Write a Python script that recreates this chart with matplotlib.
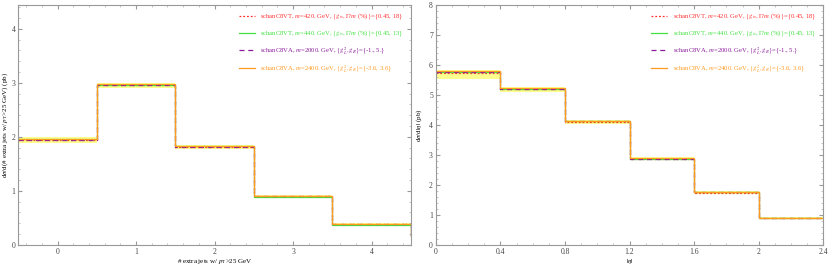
import matplotlib
matplotlib.use("Agg")
import matplotlib.pyplot as plt
import numpy as np

plt.rcParams['font.family'] = ['Liberation Serif', 'DejaVu Serif']
plt.rcParams['mathtext.fontset'] = 'stix'

# left panel: number of extra jets (last bin lies past the axis edge)
njet_edges = [-0.5, 0.5, 1.5, 2.5, 3.5, 4.5, 5.5]
njet_c8vt420 = [1.95, 2.96, 1.82, 0.90, 0.38, 0.17]
njet_c8vt440 = [1.96, 2.97, 1.83, 0.89, 0.37, 0.16]
njet_c8va2000 = [1.95, 2.96, 1.82, 0.90, 0.38, 0.17]
njet_c8va2400 = [1.96, 2.98, 1.83, 0.90, 0.38, 0.17]
njet_band_lo = [1.88, 2.90, 1.78, 0.87, 0.36, 0.15]
njet_band_hi = [1.99, 3.00, 1.85, 0.92, 0.40, 0.19]

# right panel: |eta|
eta_edges = [0, 0.4, 0.8, 1.2, 1.6, 2.0, 2.4]
eta_c8vt420 = [5.72, 5.18, 4.10, 2.86, 1.74, 0.89]
eta_c8vt440 = [5.76, 5.20, 4.12, 2.87, 1.75, 0.90]
eta_c8va2000 = [5.75, 5.20, 4.12, 2.87, 1.75, 0.90]
eta_c8va2400 = [5.78, 5.21, 4.13, 2.88, 1.76, 0.90]
eta_band_lo = [5.52, 5.08, 4.04, 2.82, 1.70, 0.86]
eta_band_hi = [5.82, 5.24, 4.16, 2.91, 1.78, 0.92]

labels = [
    r'schanC8VT, $m$=420. GeV, $\{g_{ts},\Gamma/m$ (%)$\}$={0.45, 18}',
    r'schanC8VT, $m$=440. GeV, $\{g_{ts},\Gamma/m$ (%)$\}$={0.45, 13}',
    r'schanC8VA, $m$=2000. GeV, $\{g_L^2,g_R\}$={-1., 5.}',
    r'schanC8VA, $m$=2400. GeV, $\{g_L^2,g_R\}$={-3.6, 3.6}',
]
colors = ['#ff3030', '#40e040', '#8a1a9a', '#ff9a20']
styles = [(0, (1.5, 1.5)), '-', (0, (4, 3)), '-']


def panel(ax, edges, series, lo, hi):
    x = np.repeat(edges, 2)[1:-1]
    ax.fill_between(x, np.repeat(lo, 2), np.repeat(hi, 2), color='#ffff90', lw=0)
    for vals, c, ls, lab in zip(series, colors, styles, labels):
        ax.plot(x, np.repeat(vals, 2), color=c, ls=ls, lw=0.9, label=lab)
    for sp in ax.spines.values():
        sp.set_color('#999999')
    ax.tick_params(direction='in', colors='#999999', labelcolor='#444444',
                   labelsize=5.5, length=3, pad=2, top=True, right=True)
    ax.minorticks_on()
    ax.tick_params(which='minor', direction='in', colors='#bbbbbb', length=1.5,
                   top=True, right=True)
    leg = ax.legend(loc='upper right', fontsize=4.8, frameon=False,
                    handlelength=2.4, handletextpad=0.8, labelspacing=1.0,
                    borderaxespad=0.7)
    for t, c in zip(leg.get_texts(), colors):
        t.set_color(c)


fig = plt.figure(figsize=(8.3, 2.7), dpi=100)
ax1 = fig.add_axes([0.022, 0.093, 0.473, 0.89])
ax2 = fig.add_axes([0.525, 0.093, 0.467, 0.89])

panel(ax1, njet_edges, [njet_c8vt420, njet_c8vt440, njet_c8va2000, njet_c8va2400],
      njet_band_lo, njet_band_hi)
ax1.set_xlim(-0.5, 4.5)
ax1.set_ylim(0, 4.45)
ax1.set_xticks([0, 1, 2, 3, 4])
ax1.set_yticks([0, 1, 2, 3, 4])
ax1.set_xlabel(r'# extra jets w/ $p_{\rm T}$>25 GeV', fontsize=5, labelpad=1)
ax1.set_ylabel(r'd$\sigma$/d(# extra jets w/ $p_{\rm T}$>25 GeV) (pb)', fontsize=5, labelpad=1)

panel(ax2, eta_edges, [eta_c8vt420, eta_c8vt440, eta_c8va2000, eta_c8va2400],
      eta_band_lo, eta_band_hi)
ax2.set_xlim(0, 2.4)
ax2.set_ylim(0, 8)
ax2.set_xticks([0, 0.4, 0.8, 1.2, 1.6, 2, 2.4])
ax2.set_xticklabels(['0', '0.4', '0.8', '1.2', '1.6', '2', '2.4'])
ax2.set_yticks(range(0, 9))
ax2.set_xlabel(r'$|\eta|$', fontsize=5, labelpad=1)
ax2.set_ylabel(r'd$\sigma$/d$|\eta|$ (pb)', fontsize=5, labelpad=4)

fig.savefig('out.png', dpi=100)
